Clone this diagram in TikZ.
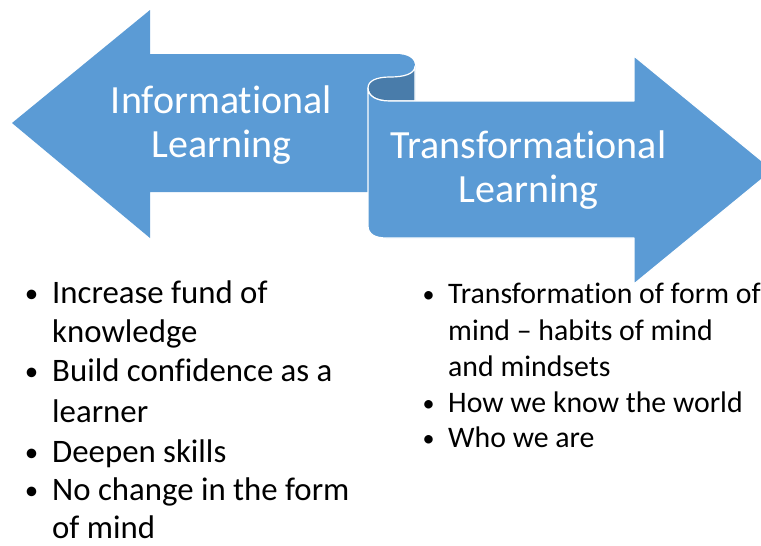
\documentclass[tikz,border=0pt]{standalone}
\usepackage{fontspec}
\setmainfont{Carlito}[RawFeature={-liga;-clig;-calt;-dlig}]
\definecolor{arrowblue}{HTML}{5B9BD5}
\definecolor{rolldark}{HTML}{497CAA}
\newcommand{\nolig}{\kern0pt }
\begin{document}
\begin{tikzpicture}[x=1pt,y=-1pt,
  titletext/.style={text=white,font=\fontsize{40}{48}\selectfont,inner sep=0pt,anchor=base},
  lefttext/.style={font=\fontsize{32.8}{38}\selectfont,inner sep=0pt,anchor=base west},
  leftdot/.style={font=\fontsize{27}{30}\selectfont,inner sep=0pt,anchor=base},
  righttext/.style={font=\fontsize{29.8}{34}\selectfont,inner sep=0pt,anchor=base west},
  rightdot/.style={font=\fontsize{24}{28}\selectfont,inner sep=0pt,anchor=base},
  outline/.style={draw=white,line width=1.2pt,line join=round}]
\useasboundingbox (0,0) rectangle (761,546);
\clip (0,0) rectangle (761,546);
% left arrow
\path[fill=arrowblue] (12,123) -- (150,10) -- (150,54) -- (396,54)
  .. controls (407,54) and (415,58) .. (415,66) -- (415,192) -- (150,192) -- (150,238) -- cycle;
% inner side of the scroll
\path[fill=rolldark,outline] (415,66) .. controls (415,74) and (404,77) .. (390,77)
  .. controls (376,77) and (368,81) .. (368,88)
  .. controls (368,96) and (376,101) .. (390,101) -- (415,101) -- cycle;
% right arrow
\path[fill=arrowblue,outline] (368,88) .. controls (368,96) and (376,101) .. (390,101)
  -- (634,101) -- (634,56) -- (773,170) -- (634,284) -- (634,238) -- (386,238)
  .. controls (375,238) and (368,234) .. (368,226) -- cycle;
% titles
\node[titletext] (il1) at (221.5,113) {Informat\nolig ional};
\node[titletext] (il2) at (221.5,157) {Learning};
\node[titletext] (tl1) at (528.5,158) {Transformat\nolig ional};
\node[titletext] (tl2) at (528.5,202) {Learning};
% left bullets
\node[leftdot] (lb1) at (31.5,302) {•};
\node[lefttext] (lt1a) at (52,303) {Increase fund of};
\node[lefttext] (lt1b) at (52,342) {knowledge};
\node[leftdot] (lb2) at (31.5,380) {•};
\node[lefttext] (lt2a) at (52,381) {Build conf\nolig idence as a};
\node[lefttext] (lt2b) at (52,422) {learner};
\node[leftdot] (lb3) at (31.5,461) {•};
\node[lefttext] (lt3) at (52,462) {Deepen skills};
\node[leftdot] (lb4) at (31.5,499) {•};
\node[lefttext] (lt4a) at (52,500) {No change in the form};
\node[lefttext] (lt4b) at (52,538) {of mind};
% right bullets
\node[rightdot] (rb1) at (428.5,302) {•};
\node[righttext] (rt1a) at (448,303) {Transformat\nolig ion of form of};
\node[righttext] (rt1b) at (448,340) {mind – habits of mind};
\node[righttext] (rt1c) at (448,376) {and mindsets};
\node[rightdot] (rb2) at (428.5,411) {•};
\node[righttext] (rt2) at (448,412) {How we know the world};
\node[rightdot] (rb3) at (428.5,446) {•};
\node[righttext] (rt3) at (448,447) {Who we are};
\end{tikzpicture}
\end{document}
